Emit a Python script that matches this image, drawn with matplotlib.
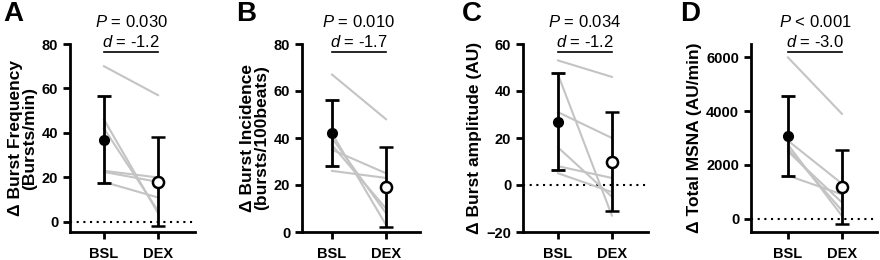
import numpy as np
import matplotlib
matplotlib.use("Agg")
import matplotlib.pyplot as plt
import matplotlib.transforms as mtransforms

plt.rcParams['font.family'] = ['Liberation Sans', 'DejaVu Sans']
plt.rcParams['mathtext.fontset'] = 'custom'
plt.rcParams['mathtext.rm'] = 'Liberation Sans'
plt.rcParams['mathtext.it'] = 'Liberation Sans:italic'

conds = ["BSL", "DEX"]

# individual subjects (BSL, DEX)
a_bsl = [70, 46, 42, 23, 22.5, 18]
a_dex = [57, 4, 5, 20, 18, 11]
b_bsl = [67, 42, 40, 37, 35, 26]
b_dex = [48, 3, 8, 10, 25, 23]
c_bsl = [53, 47, 31, 16, 8, 5]
c_dex = [46, -13, 20, -5, 3, -3]
d_bsl = [6000, 2900, 2750, 2600, 2500, 1600]
d_dex = [3900, 1300, 100, 300, 600, 900]

# group mean and SD (BSL, DEX)
a_mean = [37, 18]
a_sd = [19.5, 20]
b_mean = [42, 19]
b_sd = [14, 17]
c_mean = [27, 10]
c_sd = [20.5, 21]
d_mean = [3080, 1170]
d_sd = [1500, 1380]

letters = ["A", "B", "C", "D"]
ylabels = ["Δ Burst Frequency\n(Bursts/min)", "Δ Burst Incidence\n(bursts/100beats)",
           "Δ Burst amplitude (AU)", "Δ Total MSNA (AU/min)"]
pvals = ["= 0.030", "= 0.010", "= 0.034", "< 0.001"]
dvals = ["= -1.2", "= -1.7", "= -1.2", "= -3.0"]

panels = [
    (a_bsl, a_dex, a_mean, a_sd, (-4.5, 80), [0, 20, 40, 60, 80], True),
    (b_bsl, b_dex, b_mean, b_sd, (0, 80), [0, 20, 40, 60, 80], False),
    (c_bsl, c_dex, c_mean, c_sd, (-20, 60), [-20, 0, 20, 40, 60], True),
    (d_bsl, d_dex, d_mean, d_sd, (-500, 6500), [0, 2000, 4000, 6000], True),
]
lefts = [70, 302, 523, 751]
widths = [125, 118, 125, 126]
xlims = [(-0.63, 1.685), (-0.556, 1.63), (-0.65, 1.67), (-0.685, 1.65)]
letter_x = [3, 236, 462, 680]

fig = plt.figure(figsize=(8.8, 2.6), dpi=100)

for i, (bsl, dex, mean, sd, ylim, yticks, zero) in enumerate(panels):
    ax = fig.add_axes([lefts[i] / 880, 1 - 232 / 260, widths[i] / 880, 188 / 260])
    for s, e in zip(bsl, dex):
        ax.plot([0, 1], [s, e], color="#c4c4c4", lw=1.5, zorder=1)
    if zero:
        ax.axhline(0, color="black", ls=(0, (1, 2.2)), lw=1.5, zorder=0)
    ax.errorbar([0], [mean[0]], yerr=[sd[0]], fmt="o", color="black", mfc="black",
                mec="black", ms=7, capsize=5, elinewidth=2, capthick=2, zorder=3)
    ax.errorbar([1], [mean[1]], yerr=[sd[1]], fmt="o", color="black", mfc="white",
                mec="black", mew=1.8, ms=8, capsize=5, elinewidth=2, capthick=2, zorder=3)
    ax.set_xlim(*xlims[i])
    ax.set_ylim(*ylim)
    ax.set_yticks(yticks)
    ax.set_xticks([0, 1])
    ax.set_xticklabels(conds)
    for sp in ["top", "right"]:
        ax.spines[sp].set_visible(False)
    for sp in ["left", "bottom"]:
        ax.spines[sp].set_linewidth(2)
    ax.tick_params(width=2, length=5, labelsize=10.5)
    ax.tick_params(axis="x", pad=6)
    for lab in ax.get_xticklabels() + ax.get_yticklabels():
        lab.set_fontweight("bold")
    ax.set_ylabel(ylabels[i], fontsize=12.5, fontweight="bold", labelpad=3, linespacing=1.0)

    trans = mtransforms.blended_transform_factory(ax.transData, fig.transFigure)
    ax.text(0.5, 1 - 22 / 260, r"$\it{P}$ " + pvals[i], transform=trans,
            ha="center", va="center", fontsize=12)
    ax.text(0.5, 1 - 42 / 260, r"$\it{d}$ " + dvals[i], transform=trans,
            ha="center", va="center", fontsize=12)
    ax.plot([0, 1], [1 - 52 / 260] * 2, color="black", lw=1.2, transform=trans,
            clip_on=False)
    fig.text(letter_x[i] / 880, 1 - 14 / 260, letters[i], fontsize=20,
             fontweight="bold", va="center", ha="left")

fig.savefig("out.png", dpi=100)
